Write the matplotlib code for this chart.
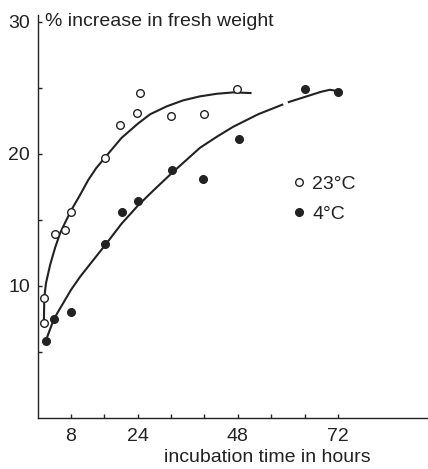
import matplotlib
matplotlib.use("Agg")
import matplotlib.pyplot as plt

plt.rcParams['font.family'] = ['Liberation Sans', 'DejaVu Sans']

# measured points (hours, % increase in fresh weight)
hours_23 = [1.5, 1.6, 4.2, 6.5, 8.0, 16.2, 19.7, 23.8, 24.5, 31.9, 40.0, 47.9]
gain_23 = [7.2, 9.1, 13.9, 14.2, 15.6, 19.7, 22.2, 23.1, 24.6, 22.9, 23.0, 24.9]

hours_4 = [1.9, 3.9, 8.0, 16.2, 20.3, 24.1, 32.3, 39.6, 48.2, 64.1, 72.0]
gain_4 = [5.8, 7.5, 8.0, 13.2, 15.6, 16.4, 18.8, 18.1, 21.1, 24.9, 24.7]

# hand-drawn fitted curves
curve23_x = [1.5, 1.6, 2.0, 3.0, 4.2, 5.4, 6.6, 8.0, 10.2, 12.1, 14.0, 16.1,
             20.1, 24.1, 27.0, 31.0, 34.9, 38.9, 43.0, 46.9, 51.3]
curve23_y = [7.3, 9.1, 10.2, 11.6, 12.9, 14.0, 14.8, 15.7, 16.9, 18.0, 18.9, 19.7,
             21.2, 22.3, 23.0, 23.6, 24.05, 24.35, 24.55, 24.65, 24.6]

# the 4 C curve has a small break in the print
curve4a_x = [1.9, 3.9, 8.0, 10.2, 13.7, 16.1, 20.1, 24.1, 28.0, 32.2, 38.9,
             43.0, 46.9, 52.9, 58.9]
curve4a_y = [5.8, 7.5, 9.7, 10.7, 12.1, 13.05, 14.7, 16.1, 17.3, 18.55, 20.45,
             21.3, 22.05, 23.0, 23.75]
curve4b_x = [60.0, 64.5, 68.0, 70.1, 72.0]
curve4b_y = [23.9, 24.35, 24.7, 24.85, 24.75]

xticks = [8, 16, 24, 32, 40, 48, 56, 64, 72]
xticklabels = ['8', '', '24', '', '', '48', '', '', '72']
yticks = [5, 10, 15, 20, 25, 30]
yticklabels = ['', '10', '', '20', '', '30']

ink = '#222222'

fig = plt.figure(figsize=(4.28, 4.69), dpi=100)
ax = fig.add_axes([0.0879, 0.1087, 0.912, 0.859])

ax.plot(curve23_x, curve23_y, color=ink, lw=1.5, solid_capstyle='butt')
ax.plot(curve4a_x, curve4a_y, color=ink, lw=1.5, solid_capstyle='butt')
ax.plot(curve4b_x, curve4b_y, color=ink, lw=1.5, solid_capstyle='butt')

ax.plot(hours_23, gain_23, 'o', ms=5.5, mfc='white', mec=ink, mew=1.0,
        label='23°C', zorder=3)
ax.plot(hours_4, gain_4, 'o', ms=5.5, mfc=ink, mec=ink, mew=1.0,
        label='4°C', zorder=3)

ax.set_xlim(0, 93.6)
ax.set_ylim(0, 30.5)
ax.set_xticks(xticks)
ax.set_xticklabels(xticklabels)
ax.set_yticks(yticks)
ax.set_yticklabels(yticklabels)

for s in ['top', 'right']:
    ax.spines[s].set_visible(False)
for s in ['left', 'bottom']:
    ax.spines[s].set_color(ink)
    ax.spines[s].set_linewidth(1.0)

ax.tick_params(axis='both', direction='in', length=3, width=1.0, color=ink,
               labelsize=14, labelcolor=ink)
ax.tick_params(axis='x', pad=7)
ax.tick_params(axis='y', pad=5.5)

ax.set_xlabel('incubation time in hours', fontsize=14, color=ink)
ax.xaxis.set_label_coords(0.589, -0.078)
ax.set_ylabel('% increase in fresh weight', fontsize=14, color=ink,
              rotation=0, ha='left', va='center')
ax.yaxis.set_label_coords(0.019, 0.984)

ax.legend(loc='upper left', bbox_to_anchor=(0.645, 0.603), frameon=False,
          fontsize=14, handlelength=1.0, handletextpad=0.17, borderpad=0,
          borderaxespad=0, labelspacing=0.66, labelcolor=ink)

fig.savefig('out.png', dpi=100)
